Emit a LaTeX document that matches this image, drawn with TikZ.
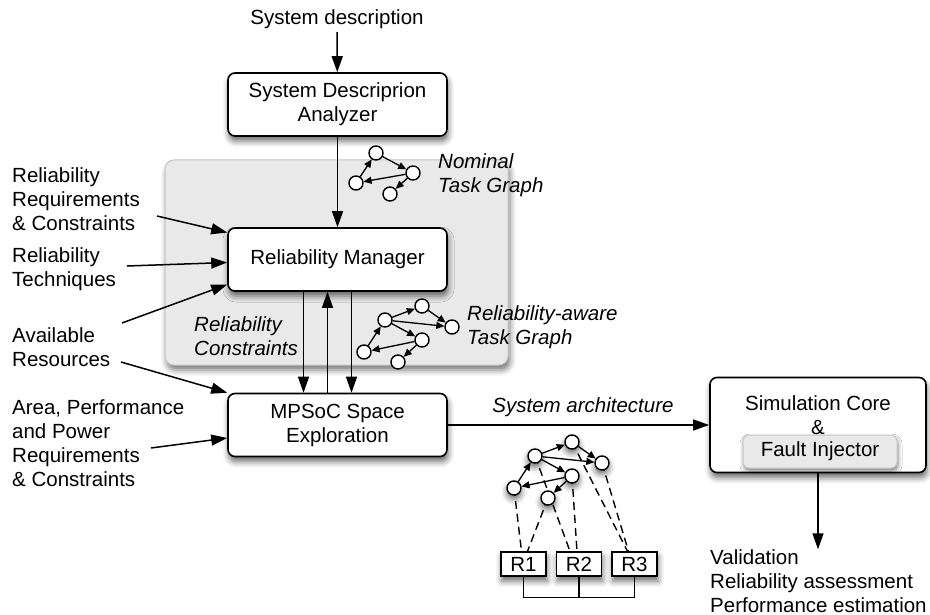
\documentclass[tikz,border=0pt]{standalone}
\usepackage{fontspec}
\setmainfont{Liberation Sans}
\usepackage{tikz}
\usetikzlibrary{positioning}
\usetikzlibrary{arrows.meta}
\usetikzlibrary{shadows.blur}
\pgfdeclarelayer{background}
\pgfsetlayers{background,main}

\begin{document}
\begin{tikzpicture}[x=1pt, y=-1pt,
  every node/.style={font=\fontsize{20.5}{24}\selectfont},
  txt/.style={inner sep=0pt, align=left, anchor=west},
  lbl/.style={txt, font=\fontsize{20.5}{24}\selectfont\itshape},
  block/.style={draw, rounded corners=7pt, line width=1.6pt, fill=white,
    minimum width=219pt, minimum height=63pt, align=center, inner sep=0pt,
    blur shadow={shadow xshift=1pt, shadow yshift=-5pt, shadow blur radius=6pt, shadow opacity=60}},
  panel/.style={draw=gray!45, fill=gray!17, rounded corners=9pt, line width=1pt,
    minimum width=343pt, minimum height=205pt,
    blur shadow={shadow xshift=2pt, shadow yshift=-5pt, shadow blur radius=6pt, shadow opacity=55}},
  fibox/.style={draw=gray!45, fill=gray!17, rounded corners=6pt, line width=1pt,
    minimum width=154pt, minimum height=33pt, inner sep=0pt,
    blur shadow={shadow xshift=1pt, shadow yshift=-3pt, shadow blur radius=4pt, shadow opacity=50}},
  resbox/.style={draw, line width=1.4pt, fill=white, minimum width=45pt,
    minimum height=24pt, inner sep=0pt,
    blur shadow={shadow xshift=1pt, shadow yshift=-5pt, shadow blur radius=6pt, shadow opacity=60}},
  task/.style={circle, draw, fill=white, line width=1.4pt, minimum size=14pt, inner sep=0pt},
  mtask/.style={task, blur shadow={shadow xshift=0pt, shadow yshift=-4pt, shadow blur radius=6pt, shadow opacity=60}},
  flow/.style={-{Triangle[length=16pt,width=11pt]}, line width=1.5pt},
  tedge/.style={-{Triangle[length=8pt,width=7pt]}, line width=1.3pt},
  mapline/.style={line width=1.4pt, dash pattern=on 8pt off 5pt}
]

\useasboundingbox (0,0) rectangle (930,615);

%gray frame of the reliability part%
\node[panel] (frame) at (336.5,262.5) {};

%main blocks%
\node (sd) at (337,19) {System description};
\node[block] (an) at (337.5,104.5) {System Descriprion\\Analyzer};
\node[block] (rm) at (337.5,259.5) {Reliability Manager};
\node[block] (mp) at (337.5,425) {MPSoC Space\\Exploration};

\node[block, minimum width=216pt, minimum height=95pt] (sim) at (818,425) {};
\node[inner sep=0pt, align=center] (simtxt) at (818,415) {Simulation Core\\\&};
\node[fibox] (fi) at (820,451.5) {Fault Injector};

%inputs on the left%
\node[txt] (reqs) at (12,199) {Reliability\\Requirements\\\& Constraints};
\node[txt] (techs) at (12,269.5) {Reliability\\Techniques};
\node[txt] (avail) at (12,347) {Available\\Resources};
\node[txt] (area) at (12,443.5) {Area, Performance\\and Power\\Requirements\\\& Constraints};

\coordinate (s1) at (157,216);
\coordinate (s2) at (127,266);
\coordinate (s3) at (122,323);
\coordinate (s4) at (121,362);
\coordinate (s5) at (151,448);

%labels%
\node[lbl] (nomlbl) at (438,175.5) {Nominal\\Task Graph};
\node[lbl] (ralbl) at (467,327) {Reliability-aware\\Task Graph};
\node[lbl] (rclbl) at (194,336.5) {Reliability\\Constraints};
\node[lbl, anchor=center] (arch) at (583,407) {System architecture};
\node[txt] (out) at (710,581) {Validation\\Reliability assessment\\Performance estimation};

%arrows%
\draw[flow] (sd) -- (an);
\draw[flow] (an) -- (rm);
\draw[flow] (s1) -- ([yshift=27pt]rm.west);
\draw[flow] (s2) -- ([yshift=-3pt]rm.west);
\draw[flow] (s3) -- ([yshift=-25pt]rm.west);
\draw[flow] (s4) -- (mp.north west);
\draw[flow] (s5) -- ([yshift=-13pt]mp.west);
\draw[flow] ([xshift=-34pt]rm.south) -- ([xshift=-34pt]mp.north);
\draw[flow] ([xshift=-10pt]mp.north) -- ([xshift=-10pt]rm.south);
\draw[flow] ([xshift=14pt]rm.south) -- ([xshift=14pt]mp.north);
\draw[flow] (mp.east) -- (sim.west);
\draw[flow] (sim.south) -- (sim.south |- out.north);

%nominal task graph%
\node[task] (n1) at (376,153) {};
\node[task] (n2) at (413,173) {};
\node[task] (n3) at (356,183) {};
\node[task] (n4) at (390,194) {};
\draw[tedge] (n3) -- (n1);
\draw[tedge] (n1) -- (n2);
\draw[tedge] (n2) -- (n3);
\draw[tedge] (n2) -- (n4);

%reliability-aware graph and its mapped copy%
\foreach \g/\dx/\dy/\st in {r/0/0/task, m/150/136/mtask}{
  \node[\st] (\g a) at (385+\dx,320+\dy) {};
  \node[\st] (\g b) at (422+\dx,306+\dy) {};
  \node[\st] (\g c) at (452+\dx,327+\dy) {};
  \node[\st] (\g d) at (422+\dx,340+\dy) {};
  \node[\st] (\g e) at (364+\dx,352+\dy) {};
  \node[\st] (\g f) at (398+\dx,362+\dy) {};
  \draw[tedge] (\g e) -- (\g a);
  \draw[tedge] (\g a) -- (\g b);
  \draw[tedge] (\g b) -- (\g c);
  \draw[tedge] (\g a) -- (\g c);
  \draw[tedge] (\g a) -- (\g d);
  \draw[tedge] (\g d) -- (\g e);
  \draw[tedge] (\g d) -- (\g f);
}

%resources%
\node[resbox] (r1) at (523.5,564) {R1};
\node[resbox] (r2) at (579,564) {R2};
\node[resbox] (r3) at (634.5,564) {R3};
\coordinate (bus) at ([yshift=-21pt]r1.south);
\draw[line width=1.4pt] (r1.south) -- (bus) -| (r3.south);
\draw[line width=1.4pt] (r2.south) -- (r2.south |- bus);

\begin{pgfonlayer}{background}
\draw[mapline] (me.center) -- ([xshift=-2pt]r1.north);
\draw[mapline] (mf.center) -- ([xshift=4pt]r1.north);
\draw[mapline] (ma.center) -- ([xshift=-9pt]r2.north);
\draw[mapline] (md.center) -- ([xshift=-2pt]r2.north);
\draw[mapline] (mb.center) -- ([xshift=-7pt]r3.north);
\draw[mapline] (mc.center) -- ([xshift=-6pt]r3.north);
\end{pgfonlayer}

\end{tikzpicture}
\end{document}
